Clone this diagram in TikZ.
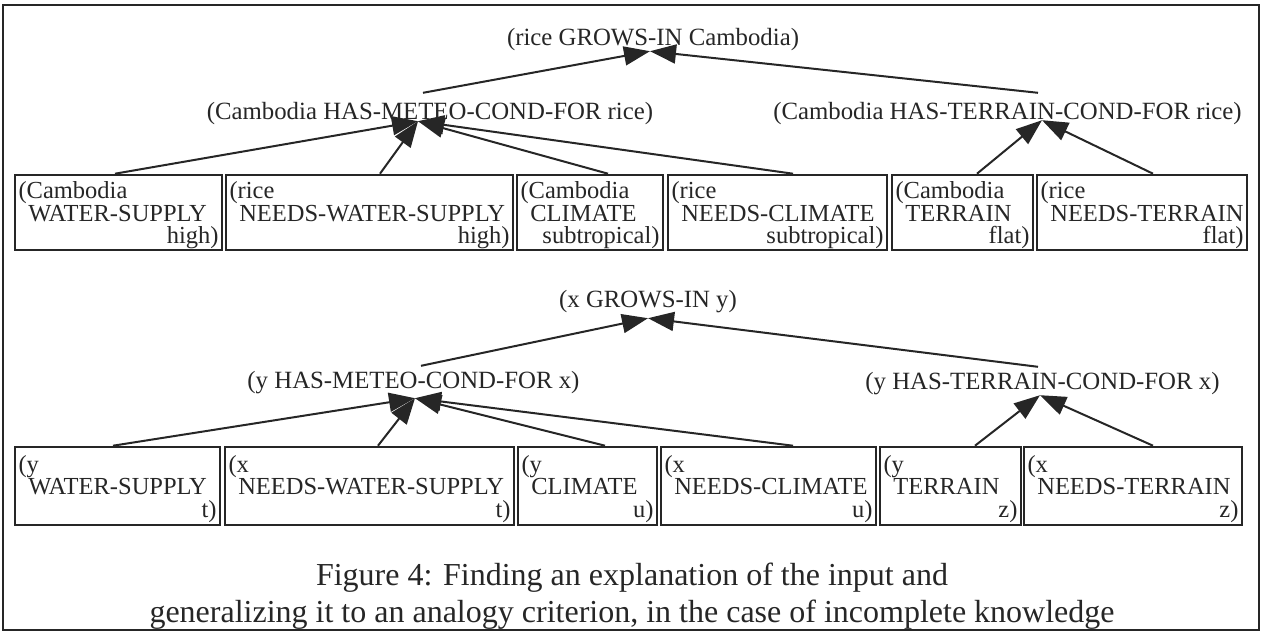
\documentclass[tikz,border=0pt]{standalone}
\usepackage{fontspec}
\setmainfont{Liberation Serif}
\usetikzlibrary{arrows.meta}
\colorlet{ink}{black!85}
\newcommand{\factlines}[3]{\rule{0pt}{23pt}#1\\\hspace*{0.4em}\mbox{#2}\\\hspace*{\fill}#3}

\begin{document}
\begin{tikzpicture}[%
            x=1pt, y=-1pt,
            mylabel/.style={inner sep=0pt, text height=22pt, text depth=6pt, text=ink, font=\fontsize{24.8}{26}\selectfont},
            mybox/.style={draw=ink, line width=2.6pt, inner xsep=3.5pt, inner ysep=0pt, minimum height=75pt, align=left, text=ink, font=\fontsize{24.5}{22.5}\selectfont},
            myarrow/.style={draw=ink, line width=2pt, -{Triangle[length=26pt,width=19pt]}}
        ]
        \useasboundingbox (0,0) rectangle (1263,632);
        \draw [ink, line width=2pt] (3,5) rectangle (1259,630);
        \begin{scope}
            \node [mylabel] (r1) at (653,37) {(rice GROWS-IN Cambodia)};
            \node [mylabel] (m1) at (430,111) {(Cambodia HAS-METEO-COND-FOR rice)};
            \node [mylabel] (t1) at (1007.5,111) {(Cambodia HAS-TERRAIN-COND-FOR rice)};
            \node [mybox, text width=200pt] (b1) at (118.5,212.5) {\factlines{(Cambodia}{WATER-SUPPLY}{high)}};
            \node [mybox, text width=280pt] (b2) at (369.5,212.5) {\factlines{(rice}{NEEDS-WATER-SUPPLY}{high)}};
            \node [mybox, text width=139pt] (b3) at (590,212.5) {\factlines{(Cambodia}{CLIMATE}{subtropical)}};
            \node [mybox, text width=212pt] (b4) at (777.5,212.5) {\factlines{(rice}{NEEDS-CLIMATE}{subtropical)}};
            \node [mybox, text width=134pt] (b5) at (962.5,212.5) {\factlines{(Cambodia}{TERRAIN}{flat)}};
            \node [mybox, text width=203pt] (b6) at (1142,212.5) {\factlines{(rice}{NEEDS-TERRAIN}{flat)}};
            \draw [myarrow] ([xshift=-7pt,yshift=4pt]m1.north) -- ([xshift=-3pt]r1.south);
            \draw [myarrow] ([xshift=30.5pt,yshift=4pt]t1.north) -- ([xshift=-3pt]r1.south);
            \draw [myarrow] ([xshift=-3.5pt]b1.north) -- ([xshift=-12pt,yshift=4pt]m1.south);
            \draw [myarrow] ([xshift=10.5pt]b2.north) -- ([xshift=-12pt,yshift=4pt]m1.south);
            \draw [myarrow] ([xshift=18pt]b3.north) -- ([xshift=-12pt,yshift=4pt]m1.south);
            \draw [myarrow] ([xshift=15.5pt]b4.north) -- ([xshift=-12pt,yshift=4pt]m1.south);
            \draw [myarrow] ([xshift=14.5pt]b5.north) -- ([xshift=34.5pt,yshift=5pt]t1.south);
            \draw [myarrow] ([xshift=11pt]b6.north) -- ([xshift=34.5pt,yshift=5pt]t1.south);
        \end{scope}
        \begin{scope}[mybox/.append style={minimum height=78pt}]
            \node [mylabel] (r2) at (648,299) {(x GROWS-IN y)};
            \node [mylabel] (m2) at (413.5,380) {(y HAS-METEO-COND-FOR x)};
            \node [mylabel] (t2) at (1042.5,381) {(y HAS-TERRAIN-COND-FOR x)};
            \node [mybox, text width=198pt] (c1) at (117.5,486) {\factlines{(y}{WATER-SUPPLY}{t)}};
            \node [mybox, text width=282pt] (c2) at (369.5,486) {\factlines{(x}{NEEDS-WATER-SUPPLY}{t)}};
            \node [mybox, text width=132pt] (c3) at (587.5,486) {\factlines{(y}{CLIMATE}{u)}};
            \node [mybox, text width=208pt] (c4) at (768.5,486) {\factlines{(x}{NEEDS-CLIMATE}{u)}};
            \node [mybox, text width=134pt] (c5) at (950.5,486) {\factlines{(y}{TERRAIN}{z)}};
            \node [mybox, text width=211pt] (c6) at (1133,486) {\factlines{(x}{NEEDS-TERRAIN}{z)}};
            \draw [myarrow] ([xshift=7.5pt]m2.north) -- ([yshift=-5pt]r2.south);
            \draw [myarrow] ([xshift=-4.5pt]t2.north) -- ([yshift=-5pt]r2.south);
            \draw [myarrow] ([xshift=-4.5pt]c1.north) -- ([xshift=1.5pt,yshift=-4pt]m2.south);
            \draw [myarrow] ([xshift=8.5pt]c2.north) -- ([xshift=1.5pt,yshift=-4pt]m2.south);
            \draw [myarrow] ([xshift=17.5pt]c3.north) -- ([xshift=1.5pt,yshift=-4pt]m2.south);
            \draw [myarrow] ([xshift=24.5pt]c4.north) -- ([xshift=1.5pt,yshift=-4pt]m2.south);
            \draw [myarrow] ([xshift=24.5pt]c5.north) -- ([xshift=-2.5pt]t2.south);
            \draw [myarrow] ([xshift=20pt]c6.north) -- ([xshift=-2.5pt]t2.south);
        \end{scope}
        \node [text=ink, align=center, font=\fontsize{32}{37}\selectfont] (cap) at (632,596)
            {Figure 4: Finding an explanation of the input and\\generalizing it to an analogy criterion, in the case of incomplete knowledge};
    \end{tikzpicture}
\end{document}
